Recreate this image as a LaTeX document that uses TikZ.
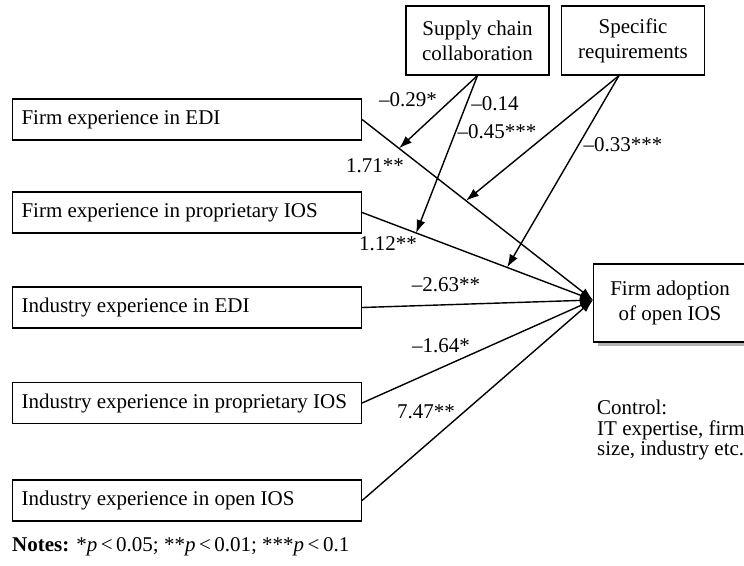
\documentclass[tikz,border=0pt]{standalone}
\usepackage{fontspec}
\setmainfont{Liberation Serif}
\usetikzlibrary{arrows.meta,shadows}

\tikzset{
  every node/.style={font=\fontsize{21}{25}\selectfont},
  lbox/.style={draw, line width=1.1pt, anchor=west, text width=331pt,
    inner xsep=9pt, minimum height=41pt, align=flush left},
  tbox/.style={draw, line width=1.1pt, minimum width=143pt,
    minimum height=69pt, align=center, inner sep=2pt},
  obox/.style={draw, line width=1.1pt, anchor=west, fill=white,
    minimum width=153pt, minimum height=78pt, align=center,
    drop shadow={shadow xshift=4pt, shadow yshift=-4pt, fill=gray!60, opacity=1}},
  coef/.style={inner sep=0pt},
  link/.style={line width=1.4pt, -{Latex[length=13pt,width=9pt]}},
}

\begin{document}
\begin{tikzpicture}[x=1pt, y=-1pt]
  \useasboundingbox (0,0) rectangle (744,565);

  % predictors
  \node[lbox] (b1) at (12,119.5) {Firm experience in EDI};
  \node[lbox] (b2) at (12,212.5) {Firm experience in proprietary IOS};
  \node[lbox] (b3) at (12,307.5) {Industry experience in EDI};
  \node[lbox] (b4) at (12,403) {Industry experience in proprietary IOS};
  \node[lbox] (b5) at (12,500.5) {Industry experience in open IOS};

  % moderators
  \node[tbox] (sc) at (477.5,40.5) {Supply chain\\collaboration};
  \node[tbox] (sr) at (633,40.5) {Specific\\requirements};
  \coordinate (so) at ([xshift=-14pt]sr.south);

  % outcome
  \node[obox] (ad) at (593,303) {Firm adoption\\of open IOS};
  \coordinate (t) at ([yshift=3pt]ad.west);

  % direct effects
  \draw[link] (b1.east) -- (t) coordinate[pos=0.16] (m1) coordinate[pos=0.45] (m2);
  \draw[link] (b2.east) -- (t) coordinate[pos=0.234] (m3) coordinate[pos=0.628] (m4);
  \draw[link] (b3.east) -- (t);
  \draw[link] (b4.east) -- (t);
  \draw[link] (b5.east) -- (t);

  % moderating effects
  \draw[link] (sc.south) -- (m1);
  \draw[link] (sc.south) -- (m3);
  \draw[link] (so) -- (m2);
  \draw[link] (so) -- (m4);

  % coefficients
  \node[coef] (c029) at (408,100) {–0.29*};
  \node[coef] (c014) at (495,104) {–0.14};
  \node[coef] (c045) at (497,132) {–0.45***};
  \node[coef] (c033) at (623,145) {–0.33***};
  \node[coef] (c171) at (375,166) {1.71**};
  \node[coef] (c112) at (388,244) {1.12**};
  \node[coef] (c263) at (446,285) {–2.63**};
  \node[coef] (c164) at (441,346) {–1.64*};
  \node[coef] (c747) at (426,412) {7.47**};

  % controls
  \node[anchor=north west, align=left, inner sep=0pt,
        font=\fontsize{21}{20.5}\selectfont] (ctl) at (597,400)
    {Control:\\IT expertise, firm\\size, industry etc.};

  % notes
  \node[anchor=base west, inner sep=0pt] (notes) at (12,551)
    {\textbf{Notes:} *\textit{p}\,<\,0.05; **\textit{p}\,<\,0.01; ***\textit{p}\,<\,0.1};
\end{tikzpicture}
\end{document}
